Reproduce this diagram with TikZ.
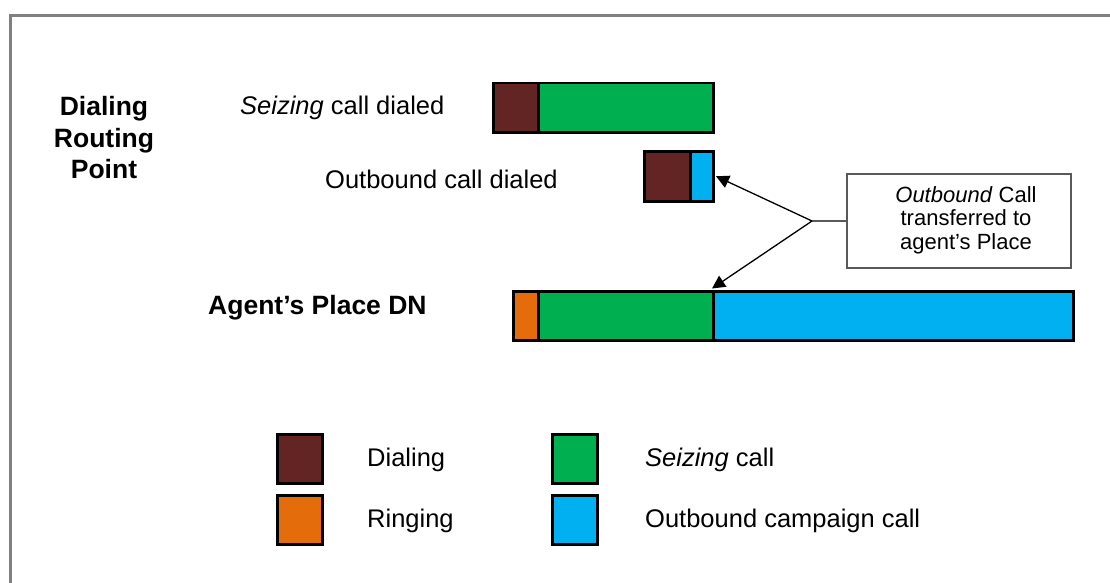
\documentclass[tikz,border=0pt]{standalone}
\usepackage{fontspec}
\setmainfont{Liberation Sans}
\usetikzlibrary{arrows.meta}
\definecolor{dialing}{HTML}{632523}
\definecolor{seizing}{HTML}{00B050}
\definecolor{campaign}{HTML}{00B0F0}
\definecolor{ringing}{HTML}{E46C0A}

\begin{document}
\begin{tikzpicture}[x=1pt, y=-1pt,
    seg/.style={draw=black, line width=2.5pt, inner sep=0pt, minimum height=49pt, anchor=north west},
    key/.style={seg, minimum width=45pt},
    lbl/.style={font=\fontsize{25.5}{30}\selectfont, anchor=base west, inner sep=0pt},
    head/.style={font=\fontsize{26.5}{31.5}\selectfont\bfseries, inner sep=0pt},
    arr/.style={line width=1.3pt, -{Triangle[length=13pt, width=13pt]}}]
        \useasboundingbox (0,0) rectangle (1110,583);
        \draw[gray, line width=3pt] (10,583) -- (10,16) -- (1110,16);

        \node[head, align=center] (drp) at (104,138) {Dialing\\Routing\\Point};
        \node[head, anchor=base west] (apdn) at (208,314) {Agent’s Place DN};
        \node[lbl] (seizlbl) at (240,114) {\textit{Seizing} call dialed};
        \node[lbl] (outlbl) at (325,188) {Outbound call dialed};

        \node[seg, fill=dialing, minimum width=46pt] (b1a) at (492,82) {};
        \node[seg, fill=seizing, minimum width=175pt] (b1b) at (537,82) {};

        \node[seg, fill=dialing, minimum width=46pt, minimum height=50pt] (b2a) at (643,150) {};
        \node[seg, fill=campaign, minimum width=23pt, minimum height=50pt] (b2b) at (689,150) {};

        \node[seg, fill=ringing, minimum width=25pt] (b3a) at (512,290) {};
        \node[seg, fill=seizing, minimum width=175pt] (b3b) at (537,290) {};
        \node[seg, fill=campaign, minimum width=360pt] (b3c) at (712,290) {};

        \node[draw=gray!70!black, line width=1.5pt, minimum width=224pt, minimum height=94pt, inner sep=0pt,
              font=\fontsize{22}{23.5}\selectfont] (note) at (959,221)
              {\hspace*{14pt}\begin{tabular}{@{}c@{}}\textit{Outbound} Call\\transferred to\\agent’s Place\end{tabular}};
        \coordinate (fork) at (812,221);
        \draw[gray!70!black, line width=1.5pt] (note.west) -- (fork);
        \draw[arr] (fork) -- ([xshift=1.5pt]b2b.east);
        \draw[arr] (fork) -- ([yshift=1.5pt]b3c.north west);

        \node[key, fill=dialing] (kdial) at (276,433) {};
        \node[key, fill=ringing] (kring) at (276,494) {};
        \node[key, fill=seizing] (kseiz) at (551,433) {};
        \node[key, fill=campaign] (kcamp) at (551,494) {};
        \node[lbl] (tdial) at (367,466) {Dialing};
        \node[lbl] (tring) at (367,527) {Ringing};
        \node[lbl] (tseiz) at (645,466) {\textit{Seizing} call};
        \node[lbl] (tcamp) at (645,527) {Outbound campaign call};
    \end{tikzpicture}
\end{document}
